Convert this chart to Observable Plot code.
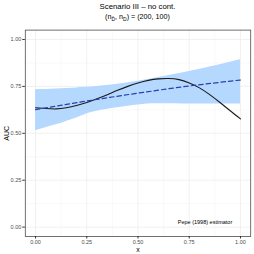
<!DOCTYPE html>
<html>
<head>
<meta charset="utf-8">
<script src="https://cdn.jsdelivr.net/npm/d3@7"></script>
<script src="https://cdn.jsdelivr.net/npm/@observablehq/plot@0.6"></script>
<style>
  html, body { margin: 0; padding: 0; background: #fff; }
  #wrap { width: 254px; height: 254px; overflow: hidden; font-family: "Liberation Sans", Arial, sans-serif; }
  .title { box-sizing: border-box; width: 254px; padding-left: 25px; padding-right: 4px; text-align: center; color: #000; white-space: nowrap; }
  #t1 { font-size: 7.8px; height: 12px; line-height: 13px; }
  #t2 { font-size: 7.2px; height: 10px; line-height: 10px; }
  #t2 sub { font-size: 5px; vertical-align: -1.5px; line-height: 0; }
  svg { display: block; }
</style>
</head>
<body>
<div id="wrap">
  <div class="title" id="t1">Scenario III – no cont.</div>
  <div class="title" id="t2">(n<sub>D&#772;</sub>, n<sub>D</sub>) = (200, 100)</div>
  <div id="chart"></div>
</div>
<script>
// True AUC curve (solid black)
const trueX = [0, 0.05, 0.1, 0.15, 0.2, 0.25, 0.3, 0.35, 0.4, 0.45, 0.5, 0.55, 0.6, 0.65, 0.7, 0.75, 0.8, 0.85, 0.9, 0.95, 1.0];
const trueY = [0.636, 0.632, 0.630, 0.636, 0.648, 0.664, 0.684, 0.706, 0.729, 0.750, 0.768, 0.782, 0.790, 0.792, 0.786, 0.768, 0.742, 0.706, 0.664, 0.620, 0.577];
// Estimator (dashed blue)
const estX = [0, 0.25, 0.5, 0.75, 1.0];
const estY = [0.626, 0.672, 0.714, 0.752, 0.784];
// Band
const bandX = [0, 0.1, 0.2, 0.25, 0.3, 0.4, 0.5, 0.6, 0.75, 0.9, 1.0];
const bandLo = [0.514, 0.545, 0.582, 0.603, 0.618, 0.636, 0.651, 0.657, 0.656, 0.656, 0.656];
const bandHi = [0.732, 0.736, 0.742, 0.745, 0.750, 0.762, 0.777, 0.797, 0.830, 0.866, 0.892];
// Ticks and grid
const majorTicks = [0, 0.25, 0.5, 0.75, 1.0];
const minorTicks = [0.125, 0.375, 0.625, 0.875];
const noteText = ["Pepe (1998) estimator"];
const noteX = [0.827];
const noteY = [0.025];

const trueData = trueX.map((x, i) => ({x, y: trueY[i]}));
const estData = estX.map((x, i) => ({x, y: estY[i]}));
const bandData = bandX.map((x, i) => ({x, lo: bandLo[i], hi: bandHi[i]}));
const noteData = noteText.map((t, i) => ({t, x: noteX[i], y: noteY[i]}));

const fmt = d3.format(".2f");
const plot = Plot.plot({
  width: 254,
  height: 232,
  marginTop: 7.6,
  marginBottom: 18,
  marginLeft: 24.8,
  marginRight: 3.8,
  style: {fontFamily: "'Liberation Sans', Arial, sans-serif", background: "#fff"},
  x: {domain: [-0.05, 1.05]},
  y: {domain: [-0.05, 1.05]},
  marks: [
    Plot.ruleX(minorTicks, {stroke: "#f3f3f3", strokeWidth: 0.5}),
    Plot.ruleY(minorTicks, {stroke: "#f3f3f3", strokeWidth: 0.5}),
    Plot.ruleX(majorTicks, {stroke: "#ebebeb", strokeWidth: 0.7}),
    Plot.ruleY(majorTicks, {stroke: "#ebebeb", strokeWidth: 0.7}),
    Plot.areaY(bandData, {x: "x", y1: "lo", y2: "hi", fill: "#b5d8ff", curve: "natural"}),
    Plot.line(trueData, {x: "x", y: "y", stroke: "#1a1a1a", strokeWidth: 1.1, curve: "natural"}),
    Plot.line(estData, {x: "x", y: "y", stroke: "#2b3fae", strokeWidth: 1.2, strokeDasharray: "4.5,3", curve: "natural"}),
    Plot.text(noteData, {x: "x", y: "y", text: "t", fontSize: 5.5, fill: "#000"}),
    Plot.frame({stroke: "#4d4d4d", strokeWidth: 0.8}),
    Plot.axisX(majorTicks, {tickSize: 2.5, tickPadding: 1.5, fontSize: 5.5, tickFormat: fmt, color: "#4d4d4d", stroke: "#333",
      label: "x", labelAnchor: "center", labelArrow: "none", labelOffset: 15}),
    Plot.axisY(majorTicks, {tickSize: 2.5, tickPadding: 1.5, fontSize: 5.5, tickFormat: fmt, color: "#4d4d4d", stroke: "#333",
      label: "AUC", labelAnchor: "center", labelArrow: "none", labelOffset: 21})
  ]
});
document.getElementById("chart").appendChild(plot);
// axis titles color/size
plot.querySelectorAll("g[aria-label='x-axis label'] text, g[aria-label='y-axis label'] text").forEach(t => {
  t.setAttribute("font-size", "7px");
  t.setAttribute("fill", "#000");
});
</script>
</body>
</html>
